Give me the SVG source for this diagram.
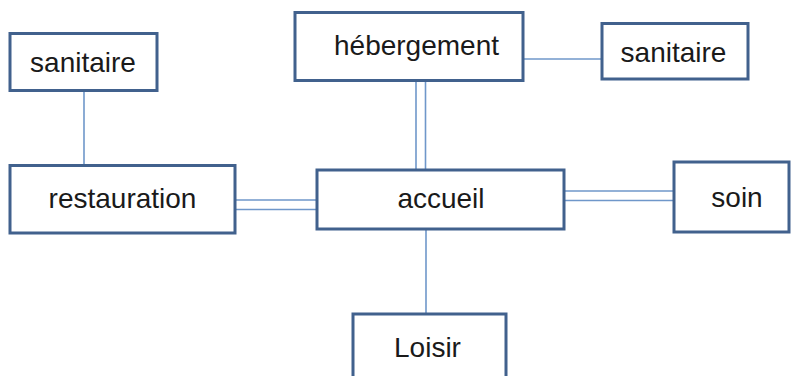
<svg xmlns="http://www.w3.org/2000/svg" width="791" height="376" viewBox="0 0 791 376">
<style>
.box{fill:#fff;stroke:#41618D;stroke-width:3}
.ln{stroke:#6F97CA;stroke-width:1.6;fill:none}
.t{font-family:"Liberation Sans",Arial,sans-serif;font-size:28px;fill:#1a1a1a;text-anchor:middle}
</style>
<rect width="791" height="376" fill="#fff"/>
<g id="connectors">
<line class="ln" x1="84" y1="91" x2="84" y2="165"/>
<line class="ln" x1="235" y1="200" x2="318" y2="200"/>
<line class="ln" x1="235" y1="209.5" x2="318" y2="209.5"/>
<line class="ln" x1="416" y1="81" x2="416" y2="170"/>
<line class="ln" x1="425.5" y1="81" x2="425.5" y2="170"/>
<line class="ln" x1="523" y1="59" x2="602" y2="59"/>
<line class="ln" x1="564" y1="191" x2="674" y2="191"/>
<line class="ln" x1="564" y1="200.5" x2="674" y2="200.5"/>
<line class="ln" x1="426" y1="229" x2="426" y2="314"/>
</g>
<g id="sanitaire-left"><rect class="box" x="10" y="33.5" width="147" height="57"/><text class="t" x="83" y="72">sanitaire</text></g>
<g id="restauration"><rect class="box" x="10" y="165.5" width="225" height="67.5"/><text class="t" x="122.5" y="208">restauration</text></g>
<g id="accueil"><rect class="box" x="317" y="170" width="247" height="59"/><text class="t" x="441" y="208">accueil</text></g>
<g id="hebergement"><rect class="box" x="295" y="12.5" width="228" height="68"/><text class="t" x="416.5" y="55">hébergement</text></g>
<g id="sanitaire-right"><rect class="box" x="602" y="23.5" width="146" height="55.5"/><text class="t" x="673.5" y="62">sanitaire</text></g>
<g id="soin"><rect class="box" x="674" y="162" width="115" height="70"/><text class="t" x="737" y="207">soin</text></g>
<g id="loisir"><rect class="box" x="353" y="314" width="153" height="70"/><text class="t" x="427.5" y="357">Loisir</text></g>
</svg>
